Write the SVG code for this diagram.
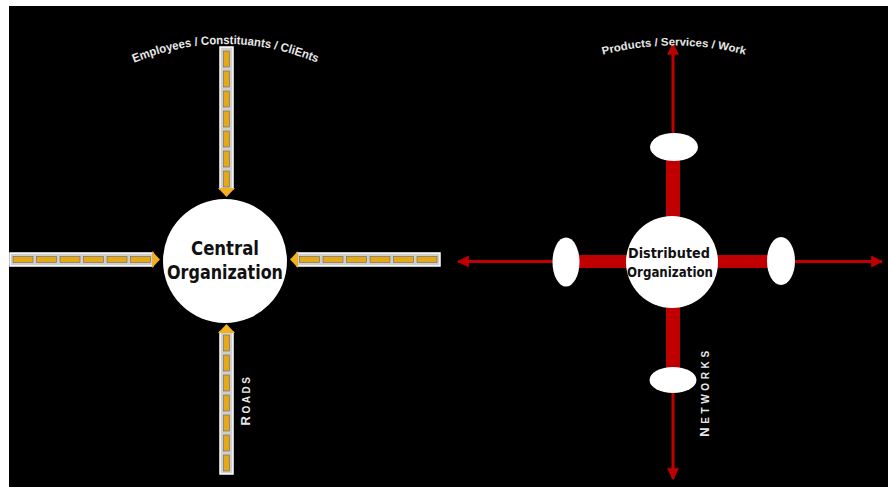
<svg xmlns="http://www.w3.org/2000/svg" width="891" height="487" viewBox="0 0 891 487">
<defs>
<style>
.road{fill:#cfcfcf;stroke:#fff;stroke-width:1.5}
.dash{fill:#e6a817;stroke:#666;stroke-width:0.6}
.yarrow{fill:#f0b020}
.thin{stroke:#c00000;stroke-width:3;fill:none}
.bar{fill:#c00000}
.wht{fill:#fff}
.big{font-family:"DejaVu Sans Condensed","Liberation Sans",sans-serif;font-weight:bold;fill:#111;text-anchor:middle}
.lbl{font-family:"Liberation Sans",Arial,sans-serif;font-weight:bold;fill:#e8e8e8}
</style>
<marker id="ra" viewBox="0 0 10 10" refX="9" refY="5" markerWidth="4" markerHeight="4" orient="auto" markerUnits="strokeWidth">
<path d="M0,0 L10,5 L0,10 z" fill="#c00000"/>
</marker>
<path id="arcL" d="M 131 64 Q 226 24 320 64"/>
<path id="arcR" d="M 598 56 Q 674 35 750 56"/>
</defs>
<rect x="9" y="6" width="879" height="481" fill="#000"/>

<g id="connectors">
<g id="road-top">
<rect class="road" x="220" y="47" width="13" height="142"/>
<rect class="dash" x="223.5" y="51" width="6" height="16"/>
<rect class="dash" x="223.5" y="71" width="6" height="16"/>
<rect class="dash" x="223.5" y="91" width="6" height="16"/>
<rect class="dash" x="223.5" y="111" width="6" height="16"/>
<rect class="dash" x="223.5" y="131" width="6" height="16"/>
<rect class="dash" x="223.5" y="151" width="6" height="16"/>
<rect class="dash" x="223.5" y="171" width="6" height="16"/>
<polygon class="yarrow" points="218,188 235,188 226.5,197"/>
</g>
<g id="road-left">
<rect class="road" x="10" y="253" width="143" height="13"/>
<rect class="dash" x="13" y="256.5" width="20" height="6"/>
<rect class="dash" x="36.5" y="256.5" width="20" height="6"/>
<rect class="dash" x="60" y="256.5" width="20" height="6"/>
<rect class="dash" x="83.5" y="256.5" width="20" height="6"/>
<rect class="dash" x="107" y="256.5" width="20" height="6"/>
<rect class="dash" x="130.5" y="256.5" width="20" height="6"/>
<polygon class="yarrow" points="152,251 152,268 160,259.5"/>
</g>
<g id="road-right">
<rect class="road" x="297" y="253" width="143" height="13"/>
<rect class="dash" x="299.5" y="256.5" width="20" height="6"/>
<rect class="dash" x="323" y="256.5" width="20" height="6"/>
<rect class="dash" x="346.5" y="256.5" width="20" height="6"/>
<rect class="dash" x="370" y="256.5" width="20" height="6"/>
<rect class="dash" x="393.5" y="256.5" width="20" height="6"/>
<rect class="dash" x="417" y="256.5" width="20" height="6"/>
<polygon class="yarrow" points="298,251 298,268 290,259.5"/>
</g>
<g id="road-bottom">
<rect class="road" x="220" y="332" width="13" height="142"/>
<rect class="dash" x="223.5" y="335" width="6" height="16"/>
<rect class="dash" x="223.5" y="355" width="6" height="16"/>
<rect class="dash" x="223.5" y="375" width="6" height="16"/>
<rect class="dash" x="223.5" y="395" width="6" height="16"/>
<rect class="dash" x="223.5" y="415" width="6" height="16"/>
<rect class="dash" x="223.5" y="435" width="6" height="16"/>
<rect class="dash" x="223.5" y="455" width="6" height="16"/>
<polygon class="yarrow" points="218,333 235,333 226.5,324"/>
</g>
<line class="thin" x1="672" y1="261.5" x2="882" y2="261.5" marker-end="url(#ra)"/>
<line class="thin" x1="672" y1="261.5" x2="458" y2="261.5" marker-end="url(#ra)"/>
<line class="thin" x1="673" y1="262" x2="673" y2="44" marker-end="url(#ra)"/>
<line class="thin" x1="673" y1="262" x2="673" y2="479" marker-end="url(#ra)"/>
<rect class="bar" x="566" y="255" width="215" height="13"/>
<rect class="bar" x="666" y="147" width="14" height="233"/>
</g>

<g id="central">
<circle class="wht" cx="225" cy="261" r="62"/>
<text class="big" x="225" y="255" font-size="19" textLength="68" lengthAdjust="spacingAndGlyphs">Central</text>
<text class="big" x="225" y="279" font-size="20" textLength="116" lengthAdjust="spacingAndGlyphs">Organization</text>
</g>

<g id="label-employees">
<text class="lbl" font-size="12"><textPath href="#arcL" startOffset="50%" text-anchor="middle" textLength="188" lengthAdjust="spacingAndGlyphs">Employees / Constituants / CliEnts</textPath></text>
</g>

<g id="label-roads">
<text class="lbl" transform="translate(250,400) rotate(-90)" text-anchor="middle" font-size="10" letter-spacing="2.5"><tspan font-size="13">R</tspan>OADS</text>
</g>

<g id="distributed">
<circle class="wht" cx="672" cy="262" r="46"/>
<text class="big" x="669" y="258" font-size="14" textLength="82" lengthAdjust="spacingAndGlyphs">Distributed</text>
<text class="big" x="670" y="277" font-size="14" textLength="86" lengthAdjust="spacingAndGlyphs">Organization</text>
</g>

<g id="node-top"><ellipse class="wht" cx="674" cy="147" rx="24" ry="14"/></g>
<g id="node-bottom"><ellipse class="wht" cx="673" cy="380" rx="23.5" ry="13"/></g>
<g id="node-left"><ellipse class="wht" cx="566" cy="262" rx="13.5" ry="24.5"/></g>
<g id="node-right"><ellipse class="wht" cx="781" cy="261" rx="14" ry="24"/></g>

<g id="label-products">
<text class="lbl" font-size="11"><textPath href="#arcR" startOffset="50%" text-anchor="middle" textLength="144" lengthAdjust="spacingAndGlyphs">Products / Services / Work</textPath></text>
</g>

<g id="label-networks">
<text class="lbl" transform="translate(709,392) rotate(-90)" text-anchor="middle" font-size="10" letter-spacing="3.6"><tspan font-size="13">N</tspan>ETWORKS</text>
</g>
</svg>
